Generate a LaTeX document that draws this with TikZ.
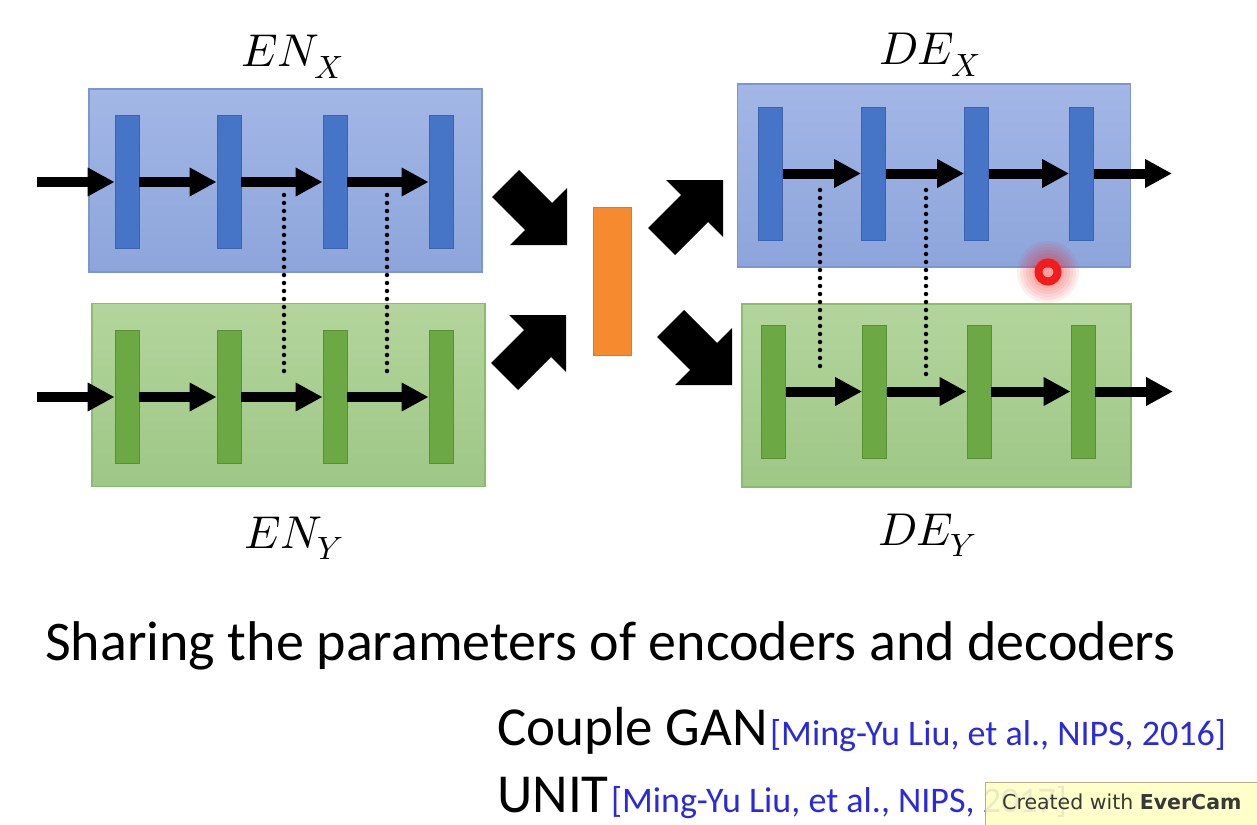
\documentclass[tikz,border=0pt]{standalone}
\usepackage{fontspec}
\usepackage{unicode-math}
\setmainfont{Carlito}
\setmathfont{Latin Modern Math}
\newfontfamily\tipfont{DejaVu Sans}
\usetikzlibrary{arrows.meta}

\definecolor{bluetop}{HTML}{A3B7E6}
\definecolor{bluebot}{HTML}{8DA5DB}
\definecolor{blueedge}{HTML}{7C96D3}
\definecolor{barblue}{HTML}{4674C6}
\definecolor{barblueedge}{HTML}{3C63AC}
\definecolor{greentop}{HTML}{B3D59C}
\definecolor{greenbot}{HTML}{9EC786}
\definecolor{greenedge}{HTML}{8CBB6F}
\definecolor{bargreen}{HTML}{6CA944}
\definecolor{bargreenedge}{HTML}{5A8F38}
\definecolor{latent}{HTML}{F58A2E}
\definecolor{latentedge}{HTML}{DD7A24}
\definecolor{citeblue}{HTML}{2A2ADC}
\definecolor{tipyellow}{HTML}{FFFFC4}
\definecolor{tipedge}{HTML}{B8B08A}
\definecolor{pointer}{HTML}{F21C1C}

\begin{document}
\begin{tikzpicture}[x=1pt,y=-1pt,
  netbox/.style={rectangle, inner sep=0pt, line width=1.2pt,
    minimum width=393pt, minimum height=183pt},
  bluebox/.style={netbox, draw=blueedge, top color=bluetop, bottom color=bluebot},
  greenbox/.style={netbox, draw=greenedge, top color=greentop, bottom color=greenbot},
  layer/.style={rectangle, inner sep=0pt, line width=0.8pt,
    minimum width=24pt, minimum height=133pt},
  bluebar/.style={layer, fill=barblue, draw=barblueedge},
  greenbar/.style={layer, fill=bargreen, draw=bargreenedge},
  flow/.style={line width=10pt, -{Triangle[length=27pt,width=27pt]}},
  tie/.style={line width=4.5pt, line cap=round, dash pattern=on 0pt off 8pt},
  netlabel/.style={anchor=base west, inner sep=0pt, font=\fontsize{46}{54}\selectfont},
  bigtext/.style={anchor=base west, inner sep=0pt, font=\fontsize{55}{64}\selectfont},
  citetext/.style={anchor=base west, inner sep=0pt, text=citeblue,
    font=\fontsize{36}{42}\selectfont},
  fatarrow/.pic={\fill[black] (-75,-48) -- (-48,-75) -- (-15,-42) -- (0,-57)
    -- (0,0) -- (-57,0) -- (-42,-15) -- cycle;},
]
\clip (0,0) rectangle (1257,824);
\fill[white] (0,0) rectangle (1257,824);

% ---------- encoder boxes ----------
\node[bluebox]  (enx) at (285.5,180.5) {};
\node[greenbox] (eny) at (288.5,395) {};
% ---------- decoder boxes ----------
\node[bluebox]  (dex) at (934,175.5) {};
\node[greenbox, minimum width=389pt] (dey) at (936.5,395.5) {};

% ---------- layers of the encoders ----------
\node[bluebar] (ex1) at (127,182) {};
\node[bluebar] (ex2) at (229,182) {};
\node[bluebar] (ex3) at (335,182) {};
\node[bluebar] (ex4) at (441,182) {};
\node[greenbar] (ey1) at (127,397) {};
\node[greenbar] (ey2) at (229,397) {};
\node[greenbar] (ey3) at (335,397) {};
\node[greenbar] (ey4) at (441,397) {};

% ---------- layers of the decoders ----------
\node[bluebar] (dx1) at (770.5,173.5) {};
\node[bluebar] (dx2) at (873.5,173.5) {};
\node[bluebar] (dx3) at (976.5,173.5) {};
\node[bluebar] (dx4) at (1081.5,173.5) {};
\node[greenbar] (dy1) at (773.5,391.5) {};
\node[greenbar] (dy2) at (874.5,391.5) {};
\node[greenbar] (dy3) at (979,391.5) {};
\node[greenbar] (dy4) at (1083,391.5) {};

% ---------- shared latent code ----------
\node[rectangle, inner sep=0pt, minimum width=38pt, minimum height=148pt,
      fill=latent, draw=latentedge, line width=0.8pt] (z) at (612,281) {};

% ---------- tied weights ----------
\coordinate (ta1) at (284,195); \coordinate (tb1) at (284,378);
\coordinate (ta2) at (387,195); \coordinate (tb2) at (387,378);
\coordinate (ta3) at (820,190); \coordinate (tb3) at (820,373);
\coordinate (ta4) at (926,190); \coordinate (tb4) at (926,378);
\draw[tie] (ta1) -- (tb1);
\draw[tie] (ta2) -- (tb2);
\draw[tie] (ta3) -- (tb3);
\draw[tie] (ta4) -- (tb4);

% ---------- data flow ----------
\coordinate (inx) at (37,182);
\coordinate (iny) at (37,397);
\coordinate (outx) at (1172,173.5);
\coordinate (outy) at (1173,391.5);
\draw[flow] (inx) -- (ex1.west);
\draw[flow] (ex1.east) -- (ex2.west);
\draw[flow] (ex2.east) -- (ex3.west);
\draw[flow] (ex3.east) -- (ex4.west);
\draw[flow] (iny) -- (ey1.west);
\draw[flow] (ey1.east) -- (ey2.west);
\draw[flow] (ey2.east) -- (ey3.west);
\draw[flow] (ey3.east) -- (ey4.west);
\draw[flow] (dx1.east) -- (dx2.west);
\draw[flow] (dx2.east) -- (dx3.west);
\draw[flow] (dx3.east) -- (dx4.west);
\draw[flow] (dx4.east) -- (outx);
\draw[flow] (dy1.east) -- (dy2.west);
\draw[flow] (dy2.east) -- (dy3.west);
\draw[flow] (dy3.east) -- (dy4.west);
\draw[flow] (dy4.east) -- (outy);

% ---------- block arrows to and from the latent code ----------
\pic at (567,245) {fatarrow};
\pic[yscale=-1] at (566,315) {fatarrow};
\pic[yscale=-1] at (723,180) {fatarrow};
\pic at (732,385) {fatarrow};

% ---------- labels ----------
\node[netlabel] (lenx) at (241,67)  {$EN_X$};
\node[netlabel] (leny) at (244,548) {$EN_Y$};
\node[netlabel] (ldex) at (879,65)  {$DE_X$};
\node[netlabel] (ldey) at (878,545) {$DE_Y$};

% ---------- caption and references ----------
\node[bigtext, font=\fontsize{56}{64}\selectfont] (share) at (45,660)
  {Sharing the parameters of encoders and decoders};
\node[bigtext] (cgan) at (497,745) {Couple GAN};
\node[citetext] (cganref) at ([xshift=2pt]cgan.base east) {[Ming-Yu Liu, et al., NIPS, 2016]};
\node[bigtext] (unit) at (497,812) {UNIT};
\node[citetext] (unitref) at ([xshift=2pt]unit.base east) {[Ming-Yu Liu, et al., NIPS, 2017]};

% ---------- pointer ----------
\coordinate (cur) at (1048,272);
\foreach \r in {31,28,...,13}
  \fill[pointer, opacity=0.07] (cur) circle (\r pt);
\draw[pointer, line width=8pt] (cur) circle (9.5pt);

% ---------- recorder tooltip ----------
\fill[tipyellow, fill opacity=0.9] (985,782) rectangle (1270,830);
\draw[tipedge, line width=1pt] (1270,782) -- (985,782) -- (985,830);
\node[anchor=base west, inner sep=0pt, text=black!78,
      font=\tipfont\fontsize{20.5}{24}\selectfont] (tip) at (1002,809)
  {Created with \textbf{EverCam}};
\end{tikzpicture}
\end{document}
